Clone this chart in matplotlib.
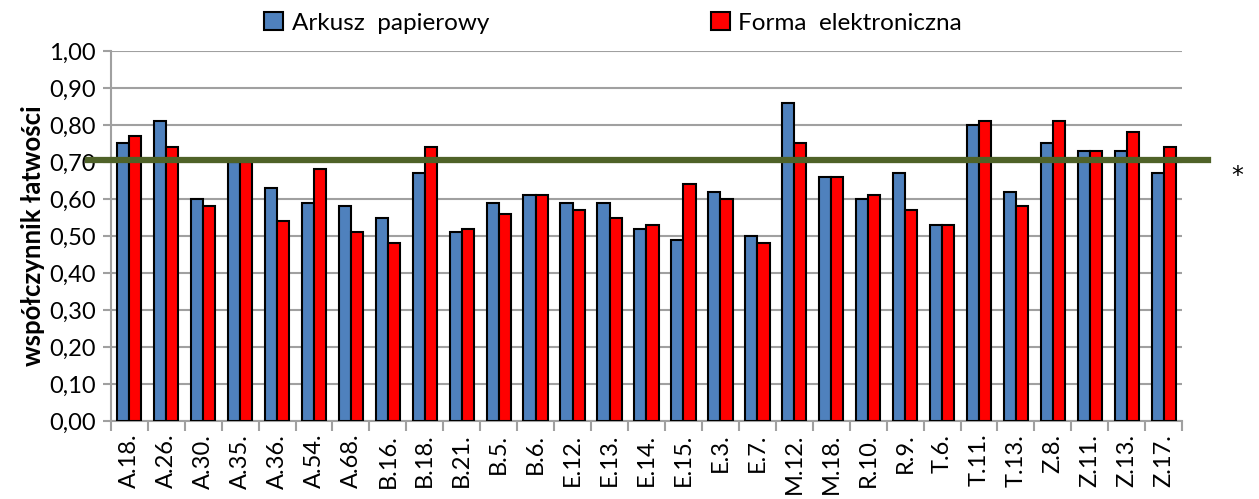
import numpy as np
import matplotlib.pyplot as plt

categories = ["A.18.", "A.26.", "A.30.", "A.35.", "A.36.", "A.54.", "A.68.", "B.16.",
              "B.18.", "B.21.", "B.5.", "B.6.", "E.12.", "E.13.", "E.14.", "E.15.",
              "E.3.", "E.7.", "M.12.", "M.18.", "R.10.", "R.9.", "T.6.", "T.11.",
              "T.13.", "Z.8.", "Z.11.", "Z.13.", "Z.17."]
paper = [0.75, 0.81, 0.60, 0.70, 0.63, 0.59, 0.58, 0.55, 0.67, 0.51, 0.59, 0.61, 0.59,
         0.59, 0.52, 0.49, 0.62, 0.50, 0.86, 0.66, 0.60, 0.67, 0.53, 0.80, 0.62, 0.75,
         0.73, 0.73, 0.67]
electronic = [0.77, 0.74, 0.58, 0.70, 0.54, 0.68, 0.51, 0.48, 0.74, 0.52, 0.56, 0.61, 0.57,
              0.55, 0.53, 0.64, 0.60, 0.48, 0.75, 0.66, 0.61, 0.57, 0.53, 0.81, 0.58, 0.81,
              0.73, 0.78, 0.74]
threshold = 0.705

plt.rcParams['font.family'] = ['Lato', 'DejaVu Sans']

fig = plt.figure(figsize=(12.59, 4.99), dpi=100)
ax = fig.add_axes([0.088, 0.156, 0.851, 0.742])

x = np.arange(len(categories))
w = 0.33
ax.bar(x - w / 2, paper, w, color='#4F81BD', edgecolor='black', linewidth=1.5,
       label='Arkusz  papierowy', zorder=3)
ax.bar(x + w / 2, electronic, w, color='#FF0000', edgecolor='black', linewidth=1.5,
       label='Forma  elektroniczna', zorder=3)

ax.axhline(threshold, xmin=-0.021, xmax=1.024, color='#4F6228', linewidth=4.5,
           clip_on=False, zorder=4)
fig.text(0.983, 0.648, '*', fontsize=17, family='DejaVu Sans', ha='center', va='center')

ax.set_xlim(-0.5, len(categories) - 0.5)
ax.set_ylim(0, 1.0)
yt = np.arange(0, 1.01, 0.1)
ax.set_yticks(yt)
ax.set_yticklabels([f"{v:.2f}".replace('.', ',') for v in yt], fontsize=17)
ax.yaxis.grid(True, color='#A0A0A0', linewidth=1.5, zorder=0)

ax.set_xticks(x)
ax.set_xticklabels(categories, rotation=90, fontsize=17)
ax.tick_params(axis='x', length=0, pad=9)
ax.set_xticks(np.arange(-0.5, len(categories)), minor=True)
ax.tick_params(axis='x', which='minor', length=7, color='#A0A0A0', width=1.5)
ax.tick_params(axis='y', length=6, color='#A0A0A0', width=1.5, pad=5)

for s in ['top', 'right']:
    ax.spines[s].set_visible(False)
for s in ['left', 'bottom']:
    ax.spines[s].set_color('#A0A0A0')
    ax.spines[s].set_linewidth(1.5)

ax.set_ylabel('współczynnik łatwości', fontsize=18.5, fontweight='bold', labelpad=3)

fig.legend(loc='upper center', bbox_to_anchor=(0.487, 1.02), ncol=2, frameon=False,
           fontsize=17.5, handlelength=0.8, handleheight=0.8, columnspacing=9.1,
           handletextpad=0.35)

fig.savefig('out.png', dpi=100)
